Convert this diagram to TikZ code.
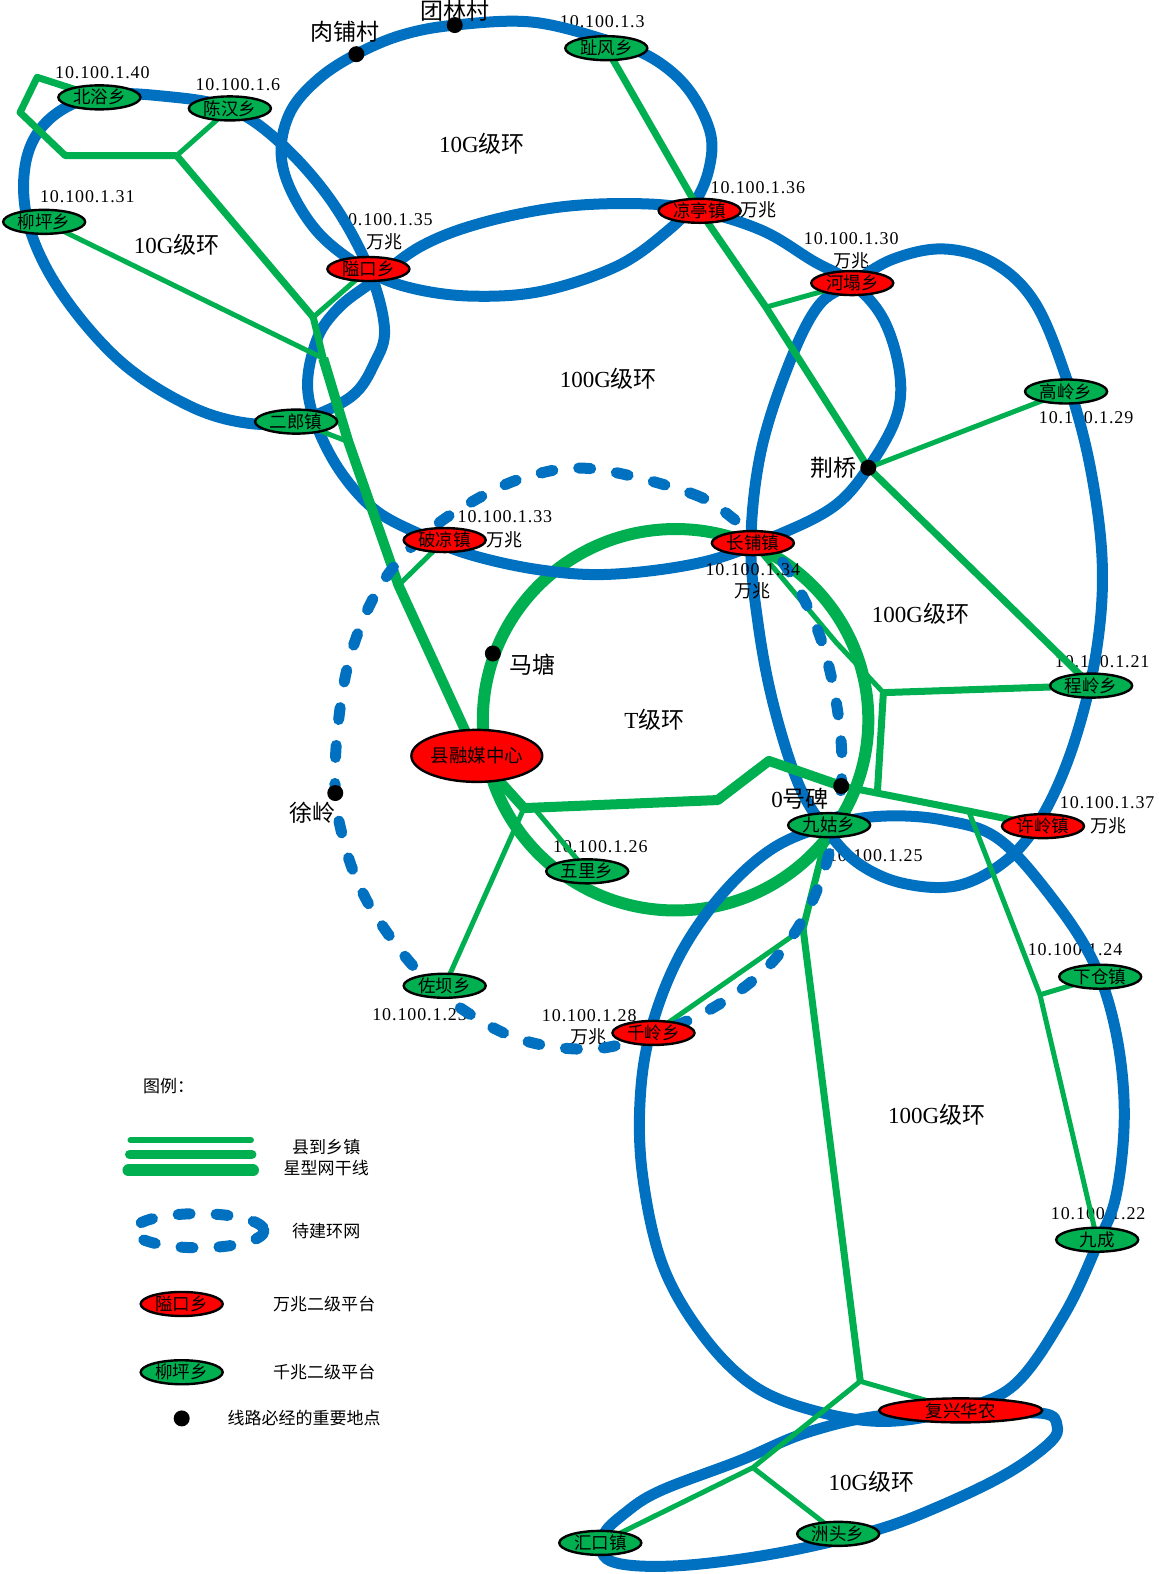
\documentclass[tikz,border=0pt]{standalone}
\usepackage{fontspec}
\setmainfont{Liberation Serif}
\newfontfamily\cjk{Noto Sans CJK SC}
\newfontfamily\ipf[LetterSpace=5]{Liberation Serif}
\usetikzlibrary{shapes.geometric}
\definecolor{ringblue}{HTML}{0070C0}
\definecolor{stargreen}{HTML}{00B050}
\definecolor{nodered}{HTML}{FF0000}
\begin{document}
\begin{tikzpicture}[x=1.00347pt,y=-1.00347pt,
 bring/.style={draw=ringblue, line width=11pt},
 dring/.style={draw=ringblue, line width=11pt, line cap=round, dash pattern=on 12pt off 26pt},
 gthin/.style={draw=stargreen, line width=5pt, line join=round},
 gmed/.style={draw=stargreen, line width=7pt, line join=round},
 gthick/.style={draw=stargreen, line width=10pt, line join=round},
 gring/.style={draw=stargreen, line width=12pt},
 plat/.style={ellipse, draw=black, line width=2.4pt, minimum width=82pt, minimum height=24pt, inner sep=0pt, font=\fontsize{17.5}{17.5}\selectfont\cjk},
 gnode/.style={plat, fill=stargreen},
 rnode/.style={plat, fill=nodered},
 spot/.style={circle, fill=black, minimum size=16pt, inner sep=0pt},
 iptext/.style={font=\fontsize{18}{18}\selectfont\ipf, inner sep=0pt},
 wz/.style={font=\fontsize{18}{18}\selectfont\cjk, inner sep=0pt},
 place/.style={font=\fontsize{23}{23}\selectfont\cjk, inner sep=0pt},
 ringlab/.style={font=\fontsize{23}{23}\selectfont, inner sep=0pt},
 legtext/.style={font=\fontsize{17}{17}\selectfont\cjk, inner sep=0pt}
]
\useasboundingbox (0,0) rectangle (1154,1568);
% ---------- positions ----------
\coordinate (beiyu) at (99,97);
\coordinate (chenhan) at (229,108);
\coordinate (liuping) at (44,221);
\coordinate (aikou) at (367,268);
\coordinate (erlang) at (295,420);
\coordinate (zhifeng) at (604,48);
\coordinate (liangting) at (697,210);
\coordinate (heta) at (849,282);
\coordinate (gaoling) at (1062,390);
\coordinate (poliang) at (443,538);
\coordinate (changpu) at (750,541);
\coordinate (chengling) at (1087,683);
\coordinate (rmzx) at (475,753);
\coordinate (jiugu) at (826,822);
\coordinate (xuling) at (1039,823);
\coordinate (wuli) at (585,868);
\coordinate (zuoba) at (443,982);
\coordinate (qianling) at (651,1029);
\coordinate (xiacang) at (1096,973);
\coordinate (jiucheng) at (1093,1235);
\coordinate (fuxing) at (957,1405);
\coordinate (huikou) at (598,1537);
\coordinate (zhoutou) at (835,1528);
\coordinate (roupu) at (355,54);
\coordinate (tuanlin) at (453,25);
\coordinate (jingqiao) at (865,466);
\coordinate (matang) at (491,651);
\coordinate (xulingd) at (334,790);
\coordinate (zerob) at (838,783);
\coordinate (tcenter) at (673,717);
% junctions
\coordinate (jA) at (176,155);
\coordinate (jB) at (312,316);
\coordinate (jC) at (322,357);
\coordinate (jD) at (347,440);
\coordinate (jE) at (397,583);
\coordinate (jF) at (763,306);
\coordinate (jG) at (833,640);
\coordinate (jH) at (880,690);
\coordinate (jI) at (874,790);
\coordinate (jJ) at (522,805);
\coordinate (jJb) at (532,805);
\coordinate (jK) at (715,797);
\coordinate (jL) at (766,758);
\coordinate (jM) at (965,808);
\coordinate (jN) at (1036,991);
\coordinate (jO) at (800,925);
\coordinate (jP) at (857,1376);
\coordinate (jQ) at (750,1462);
% ---------- IP labels (under lines) ----------
\node[iptext] (ip40) at (102,72) {10.100.1.40};
\node[iptext] (ip6) at (237,84) {10.100.1.6};
\node[iptext] (ip31) at (87,196) {10.100.1.31};
\node[iptext] (ip35) at (384,219) {10.100.1.35};
\node[wz] (wz35) at (383,241) {万兆};
\node[iptext] (ip3) at (600,22) {10.100.1.3};
\node[iptext] (ip36) at (755,187) {10.100.1.36};
\node[wz] (wz36) at (756,209) {万兆};
\node[iptext] (ip30) at (848,238) {10.100.1.30};
\node[wz] (wz30) at (848,260) {万兆};
\node[iptext] (ip29) at (1082,416) {10.100.1.29};
\node[iptext] (ip33) at (503,515) {10.100.1.33};
\node[wz] (wz33) at (503,538) {万兆};
\node[iptext] (ip21) at (1098,659) {10.100.1.21};
\node[iptext] (ip37) at (1103,800) {10.100.1.37};
\node[wz] (wz37) at (1104,823) {万兆};
\node[iptext] (ip25) at (872,852) {10.100.1.25};
\node[iptext] (ip26) at (598,843) {10.100.1.26};
\node[iptext] (ip23) at (418,1011) {10.100.1.23};
\node[iptext] (ip28) at (587,1012) {10.100.1.28};
\node[wz] (wz28) at (586,1033) {万兆};
\node[iptext] (ip24) at (1071,946) {10.100.1.24};
\node[iptext] (ip22) at (1094,1209) {10.100.1.22};
% ---------- T ring ----------
\draw[gring] (tcenter) ellipse [x radius=192, y radius=190];
% ---------- blue rings ----------
\draw[bring] plot[smooth cycle, tension=0.6] coordinates {(99,95) (165,96) (229,108) (280,143) (330,200) (367,267) (383,327) (373,362) (350,395) (300,418) (250,422) (190,405) (120,360) (60,290) (28,222) (26,160) (50,118)};
\draw[bring] plot[smooth cycle, tension=0.6] coordinates {(367,270) (320,235) (290,190) (280,150) (290,110) (318,78) (355,54) (400,35) (453,25) (530,22) (604,40) (650,58) (685,88) (707,130) (707,165) (693,200) (665,230) (615,265) (540,290) (470,295) (410,287)};
\draw[bring] plot[smooth cycle, tension=0.6] coordinates {(372,280) (420,245) (480,222) (560,206) (640,203) (697,210) (760,230) (810,260) (849,282) (880,318) (896,370) (893,415) (865,466) (830,505) (770,535) (700,560) (610,572) (540,568) (470,553) (420,533) (370,505) (330,455) (307,393) (315,340) (337,307)};
\draw[bring] plot[smooth cycle, tension=0.6] coordinates {(849,282) (890,258) (940,248) (990,262) (1030,300) (1060,370) (1085,460) (1098,560) (1092,650) (1070,740) (1040,810) (1005,855) (955,882) (900,880) (855,860) (822,825) (795,780) (770,700) (755,620) (748,540) (758,450) (785,365) (815,305)};
\draw[bring] plot[smooth cycle, tension=0.6] coordinates {(826,822) (880,813) (940,817) (995,836) (1050,897) (1090,960) (1112,1030) (1120,1110) (1112,1190) (1093,1240) (1060,1310) (1010,1380) (950,1405) (880,1416) (810,1405) (750,1380) (700,1330) (660,1260) (640,1170) (638,1090) (650,1020) (678,950) (720,890) (770,845)};
\draw[bring] plot[smooth cycle, tension=0.6] coordinates {(972,1409) (1039,1408) (1053,1420) (1046,1437) (1003,1468) (937,1500) (870,1525) (770,1548) (671,1560) (608,1555) (601,1530) (623,1507) (658,1485) (737,1455) (804,1427) (880,1410)};
% ---------- green star lines ----------
\draw[gmed] (beiyu) -- (37,77) -- (20,112) -- (65,155) -- (jA);
\draw[gthin] (chenhan) -- (jA);
\draw[gmed] (jA) -- (jB);
\draw[gthin] (jB) -- (aikou);
\draw[gmed] (jB) -- (jC);
\draw[gthick] (jC) -- (jD) -- (jE) -- (rmzx);
\draw[gthin] (liuping) -- (jC);
\draw[gthin] (erlang) -- (jD);
\draw[gthin] (poliang) -- (jE);
\draw[gmed] (zhifeng) -- (liangting);
\draw[gmed] (liangting) -- (jF) -- (jingqiao);
\draw[gthin] (jF) -- (heta);
\draw[gthin] (jingqiao) -- (gaoling);
\draw[gmed] (jingqiao) -- (chengling);
\draw[gthin] (changpu) -- (jG) -- (jH);
\draw[gmed] (jH) -- (chengling);
\draw[gmed] (jH) -- (jI);
\draw[gthick] (rmzx) -- (jJ) -- (jK) -- (jL) -- (zerob);
\draw[gmed] (zerob) -- (jM) -- (xuling);
\draw[gthin] (jM) -- (jN) -- (jiucheng);
\draw[gthin] (jN) -- (xiacang);
\draw[gthin] (jJ) -- (zuoba);
\draw[gthin] (jJb) -- (wuli);
\draw[gmed] (jiugu) -- (jO) -- (jP);
\draw[gthin] (jO) -- (qianling);
\draw[gthin] (jP) -- (fuxing);
\draw[gthin] (jP) -- (jQ) -- (huikou);
\draw[gthin] (jQ) -- (zhoutou);
% ---------- pending (dashed) ring ----------
\draw[dring] plot[smooth cycle, tension=0.6] coordinates {(590,467) (690,492) (735,520) (772,550) (800,595) (822,650) (836,720) (838,783) (826,850) (803,910) (765,963) (712,1003) (651,1030) (590,1045) (520,1036) (460,1005) (415,966) (378,918) (357,880) (343,840) (334,790) (337,720) (350,650) (378,585) (420,535) (470,500) (525,475)};
% label drawn over the dashed ring, as in the reference
\node[iptext] (ip34) at (750,567) {10.100.1.34};
\node[wz] (wz34) at (750,589) {万兆};
% ---------- platform nodes ----------
\node[gnode] (n-beiyu) at (beiyu) {北浴乡};
\node[gnode] (n-chenhan) at (chenhan) {陈汉乡};
\node[gnode] (n-liuping) at (liuping) {柳坪乡};
\node[rnode] (n-aikou) at (aikou) {隘口乡};
\node[gnode] (n-erlang) at (erlang) {二郎镇};
\node[gnode] (n-zhifeng) at (zhifeng) {趾风乡};
\node[rnode] (n-liangting) at (liangting) {凉亭镇};
\node[rnode] (n-heta) at (heta) {河塌乡};
\node[gnode] (n-gaoling) at (gaoling) {高岭乡};
\node[rnode] (n-poliang) at (poliang) {破凉镇};
\node[rnode] (n-changpu) at (changpu) {长铺镇};
\node[gnode] (n-chengling) at (chengling) {程岭乡};
\node[rnode, minimum width=108pt, minimum height=52pt, font=\fontsize{18.5}{18.5}\selectfont\cjk] (n-rmzx) at (rmzx) {县融媒中心};
\node[gnode] (n-jiugu) at (jiugu) {九姑乡};
\node[rnode] (n-xuling) at (xuling) {许岭镇};
\node[gnode] (n-wuli) at (wuli) {五里乡};
\node[gnode] (n-zuoba) at (zuoba) {佐坝乡};
\node[rnode] (n-qianling) at (qianling) {千岭乡};
\node[gnode] (n-xiacang) at (xiacang) {下仓镇};
\node[gnode] (n-jiucheng) at (jiucheng) {九成};
\node[rnode, minimum width=163pt] (n-fuxing) at (fuxing) {复兴华农};
\node[gnode] (n-huikou) at (huikou) {汇口镇};
\node[gnode] (n-zhoutou) at (zhoutou) {洲头乡};
% ---------- key points ----------
\node[spot] (d-roupu) at (roupu) {};
\node[spot] (d-tuanlin) at (tuanlin) {};
\node[spot] (d-jingqiao) at (jingqiao) {};
\node[spot] (d-matang) at (matang) {};
\node[spot] (d-xuling) at (xulingd) {};
\node[spot] (d-zerob) at (zerob) {};
\node[place] (t-roupu) at (344,32) {肉铺村};
\node[place] (t-tuanlin) at (453,11) {团林村};
\node[place] (t-jingqiao) at (830,466) {荆桥};
\node[place] (t-matang) at (530,662) {马塘};
\node[place] (t-xuling) at (311,810) {徐岭};
\node[place] (t-zerob) at (797,796) {{\rmfamily 0}号碑};
% ---------- ring labels ----------
\node[ringlab] (r1) at (480,143) {10G{\cjk 级环}};
\node[ringlab] (r2) at (176,244) {10G{\cjk 级环}};
\node[ringlab] (r3) at (868,1476) {10G{\cjk 级环}};
\node[ringlab] (r4) at (606,377) {100G{\cjk 级环}};
\node[ringlab] (r5) at (917,611) {100G{\cjk 级环}};
\node[ringlab] (r6) at (933,1111) {100G{\cjk 级环}};
\node[ringlab] (r7) at (652,717) {T{\cjk 级环}};
% ---------- legend ----------
\node[legtext] (lg-title) at (168,1082) {图例：};
\coordinate (la1) at (130,1136); \coordinate (lb1) at (250,1136);
\coordinate (la2) at (129,1150); \coordinate (lb2) at (251,1150);
\coordinate (la3) at (128,1166); \coordinate (lb3) at (252,1166);
\draw[draw=stargreen, line width=6pt, line cap=round] (la1) -- (lb1);
\draw[draw=stargreen, line width=9pt, line cap=round] (la2) -- (lb2);
\draw[draw=stargreen, line width=12pt, line cap=round] (la3) -- (lb3);
\node[legtext] (lg-star1) at (325,1143) {县到乡镇};
\node[legtext] (lg-star2) at (325,1164) {星型网干线};
\coordinate (lgd) at (198,1226);
\draw[dring] (lgd) ellipse [x radius=65, y radius=17];
\node[legtext] (lg-dash) at (325,1226) {待建环网};
\node[rnode] (lg-red) at (181,1299) {隘口乡};
\node[legtext] (lg-redt) at (323,1299) {万兆二级平台};
\node[gnode] (lg-green) at (181,1367) {柳坪乡};
\node[legtext] (lg-greent) at (323,1367) {千兆二级平台};
\node[spot] (lg-dot) at (181,1413) {};
\node[legtext] (lg-dott) at (303,1413) {线路必经的重要地点};
\end{tikzpicture}
\end{document}
